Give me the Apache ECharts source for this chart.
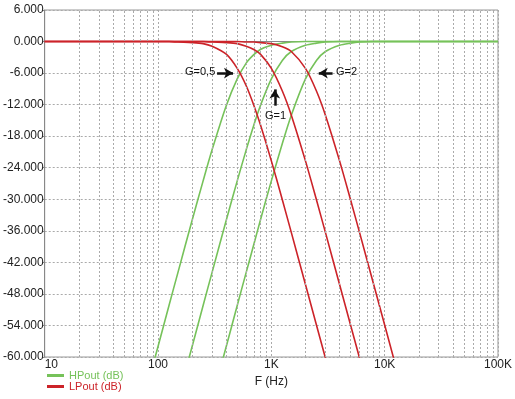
<!DOCTYPE html>
<html>
<head>
<meta charset="utf-8">
<script src="https://cdn.jsdelivr.net/npm/echarts@6/dist/echarts.min.js"></script>
<style>
    html, body {margin: 0; padding: 0; background: #fff;}
    #chart_fr {width: 515px; height: 399px;}
</style>
</head>
<body>
<div id="chart_fr"></div>
<script>
// frequency points (Hz) shared by all curves
var freqs = [10, 20, 50, 80, 100, 125, 150, 200, 250, 300,
    400, 500, 600, 700, 800, 1000, 1250, 1500, 2000, 2500,
    3000, 4000, 5000, 6000, 8000, 10000, 20000, 50000, 100000];

// HPout (dB), G = 0.5 / 1 / 2
var hpG05 = [null, null, null, -65.7, -58.0, -50.2, -43.9, -34.0, -26.5, -20.6,
    -12.2, -7.1, -4.1, -2.5, -1.5, -0.7, -0.3, -0.1, 0, 0,
    0, 0, 0, 0, 0, 0, 0, 0, 0];
var hpG1 = [null, null, null, null, null, null, -67.9, -58.0, -50.2, -43.9,
    -34.0, -26.5, -20.6, -15.9, -12.2, -7.1, -3.6, -1.9, -0.7, -0.3,
    -0.1, 0, 0, 0, 0, 0, 0, 0, 0];
var hpG2 = [null, null, null, null, null, null, null, null, null, -67.9,
    -58.0, -50.2, -43.9, -38.6, -34.0, -26.5, -19.4, -14.0, -7.1, -3.6,
    -1.9, -0.7, -0.3, -0.1, 0, 0, 0, 0, 0];

// LPout (dB), G = 0.5 / 1 / 2
var lpG05 = [0, 0, 0, 0, 0, 0, -0.1, -0.2, -0.4, -0.9,
    -2.4, -5.1, -8.4, -12.1, -15.8, -22.7, -30.1, -36.3, -46.2, -53.9,
    -60.2, -70.2, null, null, null, null, null, null, null];
var lpG1 = [0, 0, 0, 0, 0, 0, 0, 0, 0, -0.1,
    -0.2, -0.4, -0.9, -1.5, -2.4, -5.1, -9.4, -14.0, -22.7, -30.1,
    -36.3, -46.2, -53.9, -60.2, -70.2, null, null, null, null];
var lpG2 = [0, 0, 0, 0, 0, 0, 0, 0, 0, 0,
    0, 0, -0.1, -0.1, -0.2, -0.4, -1.0, -1.9, -5.1, -9.4,
    -14.0, -22.7, -30.1, -36.3, -46.2, -53.9, -78.0, null, null];

var xLabels = ['10', '100', '1K', '10K', '100K'];
// minor log grid lines (2..9 per decade)
var minorFreqs = [20, 30, 40, 50, 60, 70, 80, 90,
    200, 300, 400, 500, 600, 700, 800, 900,
    2000, 3000, 4000, 5000, 6000, 7000, 8000, 9000,
    20000, 30000, 40000, 50000, 60000, 70000, 80000, 90000];
// arrows: [from f, from dB, to f, to dB]
var arrows = [
    [332, -6, 459, -6],
    [3470, -6, 2620, -6],
    [1073, -12.2, 1073, -9.1]
];

var green = '#76c25a';
var red = '#cc2329';
var font = 'Liberation Sans, Arial, sans-serif';

function pairs(vals) {
    return freqs.map(function (f, i) { return [f, vals[i]]; });
}

function curve(name, color, vals) {
    return {
        name: name,
        type: 'line',
        data: pairs(vals),
        symbol: 'none',
        smooth: 0.3,
        connectNulls: false,
        z: 3,
        lineStyle: {color: color, width: 1.6},
        itemStyle: {color: color}
    };
}

var myChart = echarts.init(document.getElementById('chart_fr'));
var option = {
    animation: false,
    backgroundColor: '#fff',
    grid: {
        left: 44, right: 16, top: 10, bottom: 42,
        show: true,
        borderColor: '#999',
        borderWidth: 1
    },
    legend: {
        orient: 'vertical',
        left: 47,
        top: 370,
        padding: 0,
        itemWidth: 17,
        itemHeight: 3,
        itemGap: 0,
        icon: 'rect',
        selectedMode: false,
        textStyle: {fontFamily: font, fontSize: 11, lineHeight: 11},
        data: [
            {name: 'HPout (dB)', textStyle: {color: green}},
            {name: 'LPout (dB)', textStyle: {color: red}}
        ]
    },
    xAxis: {
        type: 'log',
        logBase: 10,
        min: 10,
        max: 100000,
        name: 'F (Hz)',
        nameLocation: 'middle',
        nameGap: 19,
        nameTextStyle: {fontFamily: font, fontSize: 12, color: '#222'},
        axisLine: {lineStyle: {color: '#888'}},
        axisTick: {show: false},
        axisLabel: {
            fontFamily: font, fontSize: 12, color: '#222', margin: 2,
            alignMinLabel: 'left',
            formatter: function (v) {
                return xLabels[Math.round(Math.log10(v)) - 1];
            }
        },
        splitLine: {show: true, lineStyle: {color: '#aaa', type: [2, 2]}}
    },
    yAxis: {
        type: 'value',
        min: -60,
        max: 6,
        interval: 6,
        axisLine: {show: true, lineStyle: {color: '#888'}},
        axisTick: {show: true, length: 2, lineStyle: {color: '#888'}},
        axisLabel: {
            fontFamily: font, fontSize: 12, color: '#222', margin: 1,
            formatter: function (v) { return v.toFixed(3); }
        },
        splitLine: {show: true, lineStyle: {color: '#aaa', type: [2, 2]}}
    },
    series: [
        {
            name: 'grid',
            type: 'line',
            data: [],
            z: 1,
            markLine: {
                silent: true,
                symbol: 'none',
                label: {show: false},
                lineStyle: {color: '#aaa', type: [2, 2], width: 1},
                data: minorFreqs.map(function (f) { return {xAxis: f}; })
            }
        },
        curve('HPout (dB)', green, hpG05),
        curve('HPout (dB)', green, hpG1),
        curve('HPout (dB)', green, hpG2),
        curve('LPout (dB)', red, lpG05),
        curve('LPout (dB)', red, lpG1),
        curve('LPout (dB)', red, lpG2),
        {
            name: 'arrows',
            type: 'line',
            data: [],
            z: 5,
            markLine: {
                silent: true,
                symbol: ['none', 'arrow'],
                symbolSize: [8, 9],
                label: {show: false},
                lineStyle: {color: '#111', type: 'solid', width: 2.5},
                data: arrows.map(function (a) {
                    return [{coord: [a[0], a[1]]}, {coord: [a[2], a[3]]}];
                })
            }
        }
    ],
    graphic: [
        {type: 'text', x: 185, y: 72, z: 10, style: {text: 'G=0,5', font: '11px ' + font, fill: '#111', verticalAlign: 'middle'}},
        {type: 'text', x: 336, y: 72, z: 10, style: {text: 'G=2', font: '11px ' + font, fill: '#111', verticalAlign: 'middle'}},
        {type: 'text', x: 265, y: 116, z: 10, style: {text: 'G=1', font: '11px ' + font, fill: '#111', verticalAlign: 'middle'}}
    ]
};
myChart.setOption(option);
</script>
</body>
</html>
